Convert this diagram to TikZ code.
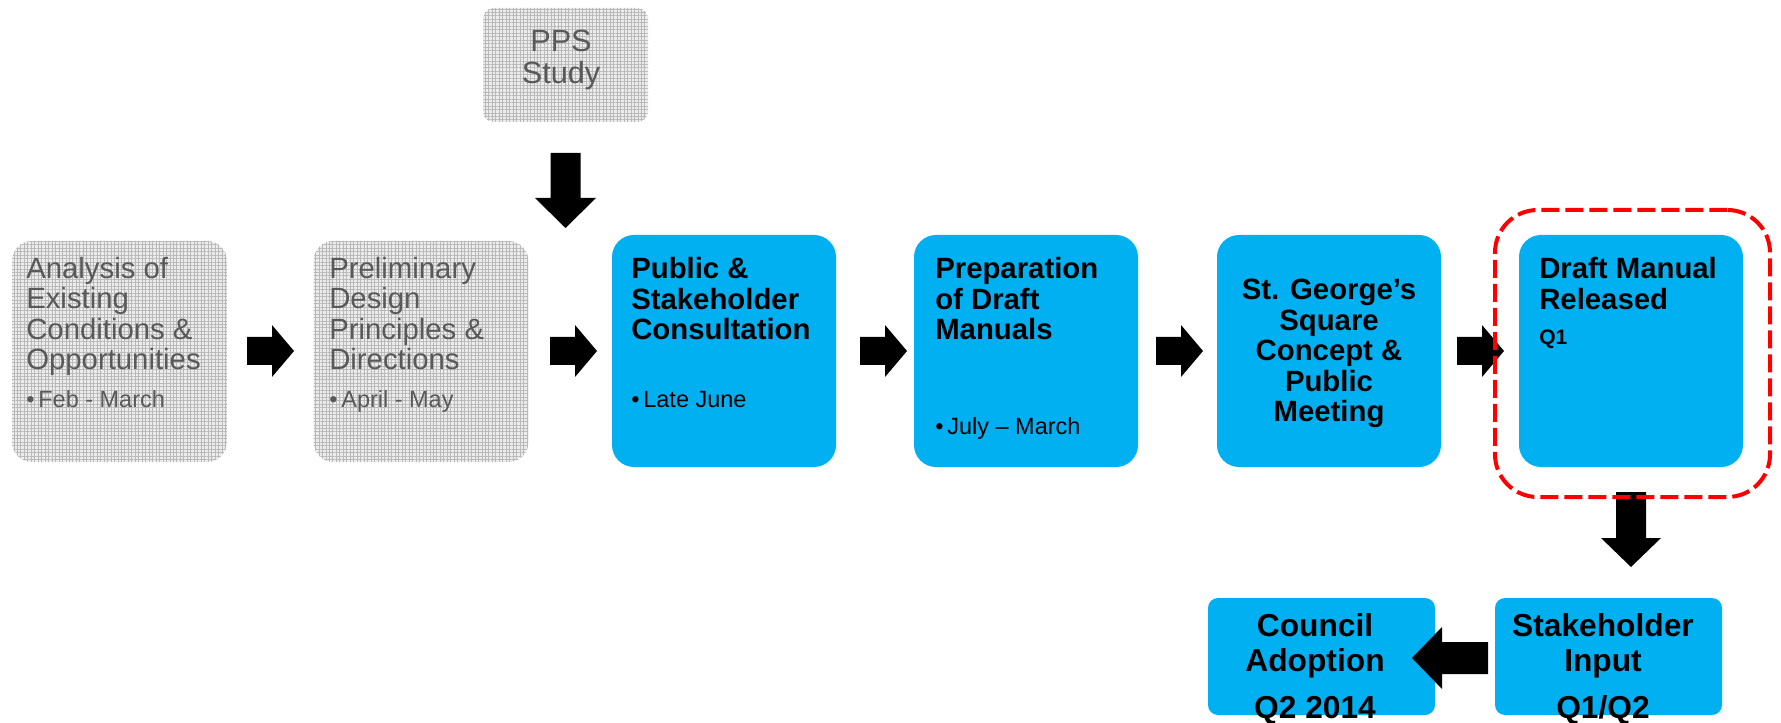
\documentclass[tikz,border=0pt]{standalone}
\usepackage{fontspec}
\setmainfont{Liberation Sans}
\usepackage{tikz}
\usetikzlibrary{patterns.meta}

\definecolor{stepblue}{RGB}{0,176,240}
\definecolor{greytxt}{RGB}{89,89,89}

\tikzset{
  donebox/.style={rounded corners=15pt, minimum width=161.25pt, minimum height=165.75pt, inner sep=0pt,
    preaction={fill=gray!15}, pattern={Hatch[angle=0,distance=2.6pt,line width=0.5pt]}, pattern color=gray!55},
  bluebox/.style={fill=stepblue, rounded corners=16.5pt, minimum width=168pt, minimum height=174pt, inner sep=0pt},
  smallbox/.style={fill=stepblue, rounded corners=7.5pt, minimum width=170.25pt, minimum height=87.75pt, inner sep=0pt},
  greytext/.style={anchor=north west, inner sep=0pt, align=left, text=greytxt, font=\fontsize{22}{22.75}\selectfont},
  boldtext/.style={anchor=north west, inner sep=0pt, align=left, font=\bfseries\fontsize{22}{22.9}\selectfont},
  bigtext/.style={anchor=north, inner sep=0pt, align=center, font=\bfseries\fontsize{23.8}{26.25}\selectfont},
  datetext/.style={anchor=base west, inner sep=0pt, font=\fontsize{17.6}{20}\selectfont},
  pics/blockarrow/.style n args={4}{code={
    \fill (0,-#2/2) -- (#1-#4,-#2/2) -- (#1-#4,-#3/2) -- (#1,0) -- (#1-#4,#3/2) -- (#1-#4,#2/2) -- (0,#2/2) -- cycle;
  }},
}

\begin{document}
\begin{tikzpicture}[x=0.75pt,y=0.75pt,yscale=-1,xscale=1]
  \useasboundingbox (0,0) rectangle (1781,723);

  % steps already done
  \node[donebox] (pps) at (565.5,65) [minimum width=123.75pt, minimum height=85.5pt, rounded corners=8pt] {};
  \node[donebox] (ana) at (119.5,351.5) {};
  \node[donebox] (pre) at (421,351.5) {};

  % steps to come
  \node[bluebox] (pub) at (724,351) {};
  \node[bluebox] (prep) at (1026,351) {};
  \node[bluebox] (stg) at (1329,351) {};
  \node[bluebox] (draft) at (1631,351) {};
  \node[smallbox] (stk) at (1608.5,656.5) {};
  \node[smallbox] (cou) at (1321.5,656.5) {};

  % block arrows
  \pic (a0) at (565.5,153) [rotate=-90] {blockarrow={75}{30}{61}{30}};
  \pic (a1) at (247,351) {blockarrow={47}{28}{52}{22}};
  \pic (a2) at (550,351) {blockarrow={47}{28}{52}{22}};
  \pic (a3) at (860,351) {blockarrow={47}{28}{52}{22}};
  \pic (a4) at (1156,351) {blockarrow={47}{28}{52}{22}};
  \pic (a5) at (1457,351) {blockarrow={47}{28}{52}{22}};
  \pic (a6) at (1631,492) [rotate=-90] {blockarrow={75}{30}{60}{29}};
  \pic (a7) at (1488,658) [rotate=180] {blockarrow={76}{32}{62}{30}};

  % current step
  \node[draw=red, line width=3pt, dash pattern=on 13.5pt off 4.5pt, rounded corners=32pt,
        minimum width=206.25pt, minimum height=215.25pt] (now) at (1632.5,353.5) {};

  \node[greytext, anchor=north, align=center, font=\fontsize{23}{23.5}\selectfont] (ppsT) at (561,30) {PPS\\Study};
  \node[greytext] (anaT) at (26,257) {Analysis of\\Existing\\Conditions \&\\Opportunities};
  \node[datetext, text=greytxt] (anaD) at (26,407) {\textbullet\,Feb - March};
  \node[greytext] (preT) at (329,257) {Preliminary\\Design\\Principles \&\\Directions};
  \node[datetext, text=greytxt] (preD) at (329,407) {\textbullet\,April - May};

  \node[boldtext] (pubT) at (631,257) {Public \&\\Stakeholder\\Consultation};
  \node[datetext] (pubD) at (631,407) {\textbullet\,Late June};
  \node[boldtext] (prepT) at (935,257) {Preparation\\of Draft\\Manuals};
  \node[datetext] (prepD) at (935,435) {\textbullet\,July -- March};
  \node[boldtext, anchor=north, align=center] (stgT) at (1329,279) {St. George’s\\Square\\Concept \&\\Public\\Meeting};
  \node[boldtext] (draftT) at (1539,257) {Draft Manual\\Released};
  \node[datetext, font=\bfseries\fontsize{15.75}{18}\selectfont] (draftD) at (1539,344.5) {Q1};

  \node[bigtext] (stkT) at (1603,613) {Stakeholder\\Input};
  \node[bigtext, anchor=base] (stkD) at (1603,718) {Q1/Q2};
  \node[bigtext] (couT) at (1315,613) {Council\\Adoption};
  \node[bigtext, anchor=base] (couD) at (1315,718) {Q2 2014};
\end{tikzpicture}
\end{document}
